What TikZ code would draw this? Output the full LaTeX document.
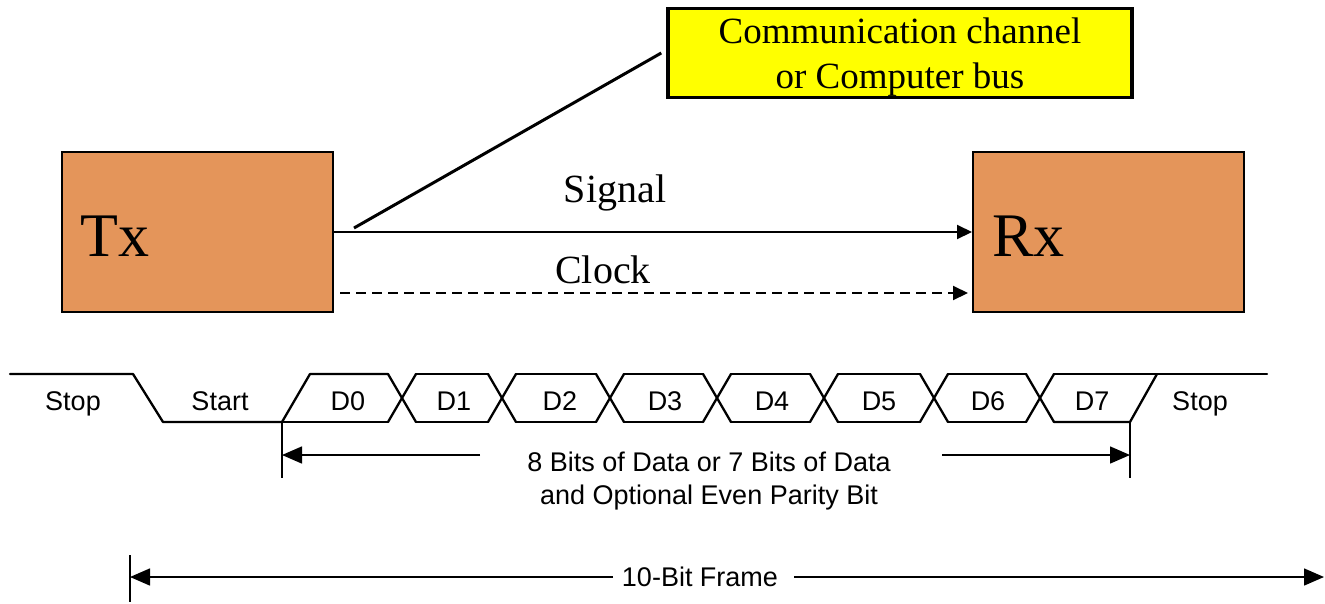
\documentclass[tikz,border=0pt]{standalone}
\usepackage{fontspec}
\setmainfont{Liberation Serif}
\newfontfamily\arialf{Liberation Sans}
\usetikzlibrary{arrows.meta}
\definecolor{boxorange}{RGB}{228,149,90}
\definecolor{boxyellow}{RGB}{255,255,0}
\begin{document}
\begin{tikzpicture}[x=1pt,y=-1pt,
  unit/.style={draw=black, line width=2pt, fill=boxorange, minimum width=271pt, minimum height=160pt, inner sep=0pt},
  ybox/.style={draw=black, line width=3.5pt, fill=boxyellow, minimum width=464pt, minimum height=89pt, inner sep=0pt},
  bigtxt/.style={font=\fontsize{62}{70}\selectfont, inner sep=0pt, anchor=base west},
  sigtxt/.style={font=\fontsize{40}{46}\selectfont, inner sep=0pt, anchor=base},
  lbl/.style={font=\arialf\fontsize{27}{30}\selectfont, inner sep=0pt, anchor=base},
  tl/.style={line width=2.3pt, line cap=round, line join=round},
  dimarr/.style={line width=1.5pt, -{Triangle[length=20pt,width=17pt]}},
  tick/.style={line width=2pt},
  sigarr/.style={line width=2pt, -{Triangle[length=15pt,width=14pt]}}
]
\useasboundingbox (0,0) rectangle (1325,603);

% blocks
\node[unit] (tx) at (197.5,232) {};
\node[unit] (rx) at (1108.5,232) {};
\node[bigtxt] (txl) at (80,256) {Tx};
\node[bigtxt] (rxl) at (992,256) {Rx};

% channel label
\node[ybox] (yel) at (900,53) {};
\node[font=\fontsize{37}{45}\selectfont, align=center, inner sep=0pt] (yeltext) at (900,57) {Communication channel\\or Computer bus};

% connectors
\draw[sigarr] (tx.east) -- (rx.west);
\draw[sigarr, dashed, dash pattern=on 10pt off 6pt] ([xshift=6pt,yshift=-61pt]tx.east) -- ([xshift=-4pt,yshift=-61pt]rx.west);
\draw[line width=3pt] ([xshift=20pt,yshift=4pt]tx.east) -- ([xshift=-5pt]yel.west);
\node[sigtxt] (sig) at (615,202) {Signal};
\node[sigtxt] (clk) at (603,283) {Clock};

% timing waveform
\draw[tl] (10,374) -- (133,374) -- (163,422) -- (282,422) -- (310,374) -- (388,374);
\draw[tl] (282,422) -- (388,422);
\foreach \c in {402,502,610,717,824,934,1040} {
  \draw[tl] (\c-14,374) -- (\c+14,422);
  \draw[tl] (\c-14,422) -- (\c+14,374);
}
\foreach \a/\b in {402/502,502/610,610/717,717/824,824/934,934/1040} {
  \draw[tl] (\a+14,374) -- (\b-14,374);
  \draw[tl] (\a+14,422) -- (\b-14,422);
}
\draw[tl] (1054,374) -- (1267,374);
\draw[tl] (1054,422) -- (1130,422) -- (1157,374);

% waveform labels
\foreach \x/\t [count=\i] in {73/Stop,220/Start,348/D0,454/D1,560/D2,665/D3,772/D4,879/D5,988/D6,1092/D7,1200/Stop} {
  \node[lbl] (w\i) at (\x,410) {\t};
}

% data span
\coordinate (dl) at (282,422);
\coordinate (dr) at (1130,422);
\coordinate (dlb) at (282,478);
\coordinate (drb) at (1130,478);
\coordinate (dla) at (282,455);
\coordinate (dra) at (1130,455);
\coordinate (dls) at (480,455);
\coordinate (drs) at (942,455);
\draw[tick] (dl) -- (dlb);
\draw[tick] (dr) -- (drb);
\draw[dimarr] (dls) -- (dla);
\draw[dimarr] (drs) -- (dra);
\node[font=\arialf\fontsize{27}{33}\selectfont, align=center, inner sep=0pt] (dtext) at (709,481) {8 Bits of Data or 7 Bits of Data\\and Optional Even Parity Bit};

% frame span
\coordinate (ft) at (130,555);
\coordinate (fb) at (130,602);
\coordinate (fla) at (130,577);
\coordinate (fra) at (1324,577);
\coordinate (fls) at (613,577);
\coordinate (frs) at (794,577);
\draw[tick] (ft) -- (fb);
\draw[dimarr] (fls) -- (fla);
\draw[dimarr] (frs) -- (fra);
\node[lbl, anchor=center] (ftext) at (700,577) {10-Bit Frame};
\end{tikzpicture}
\end{document}
